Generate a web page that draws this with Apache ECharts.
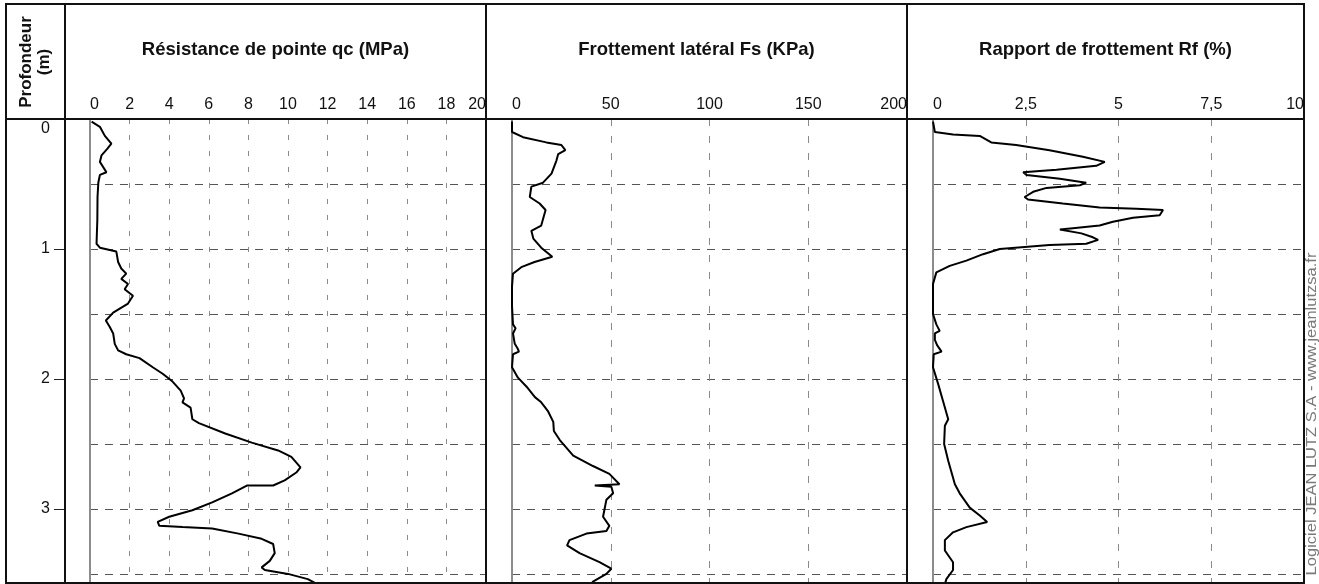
<!DOCTYPE html>
<html>
<head>
<meta charset="utf-8">
<script src="https://cdn.jsdelivr.net/npm/echarts@6/dist/echarts.min.js"></script>
<style>html,body{margin:0;padding:0;background:#fff}#c{width:1319px;height:584px}</style>
</head>
<body>
<div id="c"></div>
<script>
// ---- Data (depth in m) ----
const panelTitles = ['Résistance de pointe qc (MPa)', 'Frottement latéral Fs (KPa)', 'Rapport de frottement Rf (%)'];
const depthTitle = 'Profondeur\n(m)';
const watermark = 'Logiciel JEAN LUTZ S.A - www.jeanlutzsa.fr';

const qcDepth = [0.02,0.06,0.13,0.19,0.23,0.28,0.33,0.41,0.43,0.49,0.60,0.78,0.96,0.99,1.02,1.10,1.15,1.19,1.23,1.27,1.31,1.36,1.42,1.49,1.55,1.60,1.65,1.73,1.78,1.81,1.84,1.91,1.96,2.02,2.09,2.15,2.18,2.22,2.31,2.34,2.42,2.49,2.55,2.60,2.68,2.72,2.78,2.82,2.82,2.88,2.95,3.01,3.06,3.10,3.13,3.14,3.15,3.19,3.23,3.27,3.34,3.40,3.45,3.47,3.50,3.54,3.58];
const qcValue = [0.08,0.5,0.75,1.08,0.87,0.58,0.5,0.83,0.5,0.42,0.38,0.37,0.33,0.5,1.33,1.42,1.58,1.83,1.58,1.92,1.75,2.17,1.92,1.17,0.8,1.0,1.17,1.25,1.42,1.83,2.5,3.17,3.67,4.17,4.58,4.75,4.67,5.08,5.17,5.5,6.83,8.17,9.5,10.17,10.63,10.42,9.83,9.25,7.92,7.17,6.17,5.17,4.0,3.42,3.5,4.67,6.17,7.5,8.67,9.25,9.33,9.08,8.67,8.83,10.0,11.0,11.5];

const fsDepth = [0.02,0.10,0.14,0.18,0.20,0.24,0.27,0.32,0.42,0.49,0.52,0.60,0.65,0.70,0.82,0.86,0.92,0.99,1.06,1.10,1.14,1.19,1.29,1.44,1.58,1.61,1.65,1.73,1.77,1.79,1.81,1.91,1.99,2.06,2.14,2.18,2.25,2.33,2.40,2.47,2.59,2.67,2.73,2.81,2.82,2.83,2.88,2.93,3.06,3.13,3.17,3.19,3.24,3.28,3.34,3.41,3.46,3.50,3.56,3.60];
const fsValue = [0,0,5.6,17.4,25,27,23.4,22.5,20,15.7,9.8,9,14,17,14.8,9.8,10.8,14.8,20.4,11.4,4.7,0.5,0,0,0.5,1.8,0.5,1.4,3.0,3.5,0.5,0,3,7.4,11.6,14.8,18.3,20.9,21.2,24.2,31,41,49.3,54.4,41.9,50.3,51.2,47.8,46.1,49.3,47.8,37.7,29.1,27.9,34.2,44.3,50.3,47.8,41,39];

const rfDepth = [0.02,0.10,0.12,0.13,0.18,0.20,0.24,0.29,0.33,0.36,0.39,0.41,0.43,0.46,0.49,0.51,0.53,0.56,0.60,0.62,0.65,0.68,0.69,0.70,0.74,0.76,0.79,0.82,0.84,0.85,0.88,0.91,0.93,0.96,0.97,1.00,1.04,1.09,1.13,1.18,1.27,1.50,1.58,1.63,1.65,1.70,1.74,1.79,1.81,1.91,2.04,2.17,2.31,2.36,2.50,2.63,2.81,2.88,2.99,3.05,3.10,3.14,3.18,3.24,3.32,3.41,3.47,3.54,3.58];
const rfValue = [0,0.05,0.54,1.26,1.57,2.24,3.14,4.04,4.63,4.40,3.33,2.43,2.52,3.42,4.13,3.96,3.06,2.70,2.47,2.56,3.50,4.49,5.48,6.20,6.11,5.39,4.85,4.49,3.77,3.42,4.0,4.31,4.45,4.13,3.14,1.80,1.35,0.90,0.45,0.09,0,0,0.09,0.18,0.05,0.05,0.11,0.23,0.02,0,0.14,0.27,0.41,0.32,0.30,0.41,0.59,0.72,0.99,1.26,1.46,0.90,0.54,0.32,0.32,0.54,0.54,0.36,0.32];

const xMax = [20, 200, 10];
const xInterval = [2, 50, 2.5];
const depthMax = 3.57;

// ---- Layout ----
const plotTop = 119, plotBottom = 583;
const grids = [
  {left: 90, width: 396},
  {left: 512, width: 395},
  {left: 933, width: 371}
];
const panelBounds = [[65, 486], [486, 907], [907, 1304]];
const vDash = [[5, 11], [7, 10], [7, 10]];

function pairs(d, v) { return d.map((y, i) => [v[i], y]); }
const seriesData = [pairs(qcDepth, qcValue), pairs(fsDepth, fsValue), pairs(rfDepth, rfValue)];

function fmtNum(v) {
  return String(v).replace('.', ',');
}
const FONT = 'Liberation Sans, Arial, sans-serif';

const option = {
  animation: false,
  backgroundColor: '#fff',
  grid: grids.map(g => ({left: g.left, width: g.width, top: plotTop, height: plotBottom - plotTop, containLabel: false}))
    .concat([{left: 6, width: 59, top: plotTop, height: plotBottom - plotTop, containLabel: false}]),
  xAxis: grids.map((g, i) => ({
    type: 'value', gridIndex: i, position: 'top', min: 0, max: xMax[i], interval: xInterval[i],
    axisLine: {show: false}, axisTick: {show: false},
    axisLabel: {show: true, fontFamily: FONT, fontSize: 16, color: '#111', margin: 6,
      alignMinLabel: 'left', alignMaxLabel: 'right', formatter: fmtNum},
    splitLine: {show: true, lineStyle: {color: '#8a8a8a', width: 1, type: vDash[i]}}
  })).concat([{type: 'value', gridIndex: 3, show: false, min: 0, max: 1}]),
  yAxis: grids.map((g, i) => ({
    type: 'value', gridIndex: i, inverse: true, min: 0, max: depthMax, interval: 0.5,
    axisLine: {show: true, onZero: false, lineStyle: {color: '#8c8c8c', width: 2}},
    axisTick: {show: false}, axisLabel: {show: false},
    splitLine: {show: true, lineStyle: {color: '#555', width: 1, type: [8, 7]}}
  })).concat([{
    type: 'value', gridIndex: 3, inverse: true, min: 0, max: depthMax, interval: 1, position: 'right',
    axisLine: {show: true, onZero: false, lineStyle: {color: '#111', width: 2}},
    axisTick: {show: true, inside: true, length: 11, lineStyle: {color: '#222', width: 1}},
    axisLabel: {show: true, inside: true, fontFamily: FONT, fontSize: 16, color: '#111', margin: 15,
      verticalAlignMinLabel: 'top', padding: [2, 0, 0, 0],
      formatter: v => (Math.abs(v - Math.round(v)) < 1e-6 ? String(Math.round(v)) : '')},
    splitLine: {show: false}
  }]),
  series: seriesData.map((d, i) => ({
    type: 'line', xAxisIndex: i, yAxisIndex: i, data: d, showSymbol: false, smooth: false,
    lineStyle: {color: '#000', width: 2}, silent: true
  })),
  graphic: [
    {type: 'rect', shape: {x: 6, y: 4, width: 1298, height: 579}, style: {fill: null, stroke: '#111', lineWidth: 2}, z: 100},
    {type: 'line', shape: {x1: 6, y1: plotTop, x2: 1304, y2: plotTop}, style: {stroke: '#111', lineWidth: 2}, z: 100},
    {type: 'line', shape: {x1: 65, y1: 4, x2: 65, y2: plotBottom}, style: {stroke: '#111', lineWidth: 2}, z: 100},
    {type: 'line', shape: {x1: 486, y1: 4, x2: 486, y2: plotBottom}, style: {stroke: '#111', lineWidth: 2}, z: 100},
    {type: 'line', shape: {x1: 907, y1: 4, x2: 907, y2: plotBottom}, style: {stroke: '#111', lineWidth: 2}, z: 100},
    {type: 'text', x: 35, y: 62, rotation: Math.PI / 2,
      style: {text: depthTitle, fontFamily: FONT, fontWeight: 'bold', fontSize: 17, lineHeight: 18,
        fill: '#111', align: 'center', verticalAlign: 'middle'}, z: 100},
    ...panelTitles.map((t, i) => ({type: 'text', x: (panelBounds[i][0] + panelBounds[i][1]) / 2, y: 50,
      style: {text: t, fontFamily: FONT, fontWeight: 'bold', fontSize: 18.5,
        fill: '#111', align: 'center', verticalAlign: 'middle'}, z: 100})),
    {type: 'text', x: 1311.5, y: 414, rotation: Math.PI / 2, scaleX: 1.1,
      style: {text: watermark, fontFamily: FONT, fontSize: 15,
        fill: '#7a7a7a', align: 'center', verticalAlign: 'middle'}, z: 100}
  ]
};

const chart = echarts.init(document.getElementById('c'), null, {renderer: 'canvas'});
chart.setOption(option);
</script>
</body>
</html>
